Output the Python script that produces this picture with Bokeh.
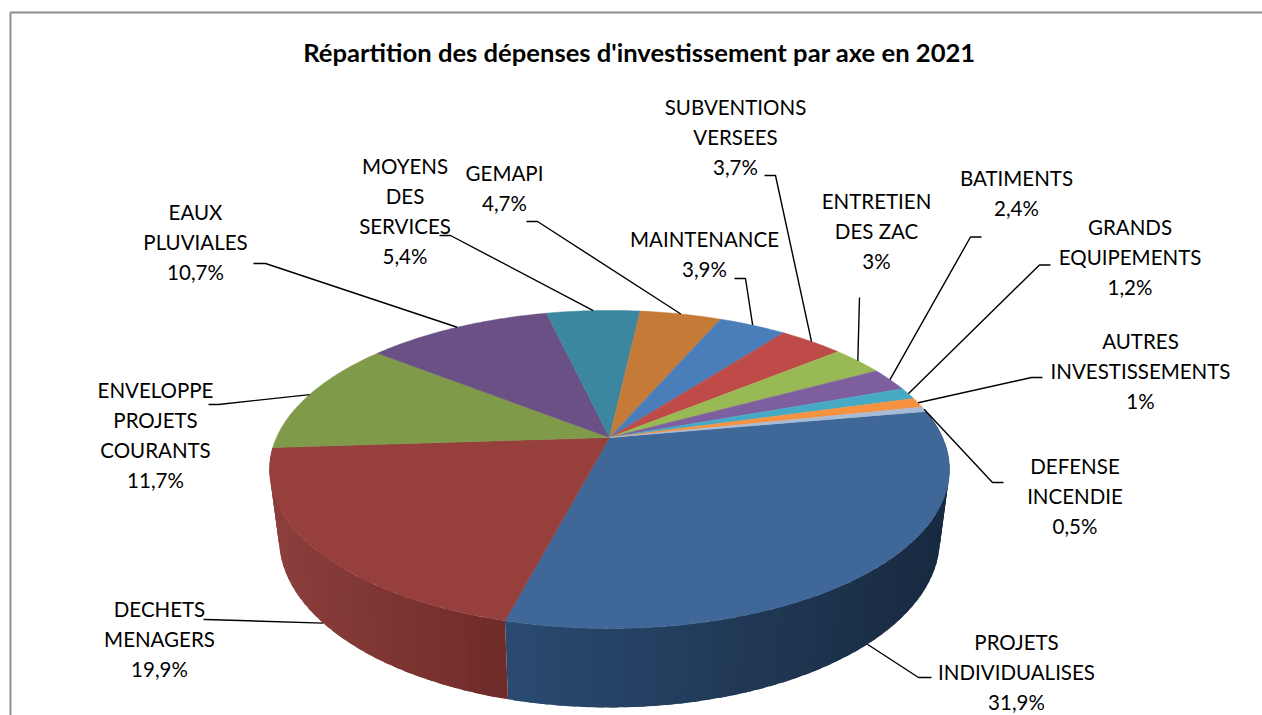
import math
from bokeh.plotting import figure
from bokeh.models import Range1d
from bokeh.core.properties import value
from bokeh.embed import file_html
from bokeh.resources import INLINE

# --- data -------------------------------------------------------------
title_text = "Répartition des dépenses d'investissement par axe en 2021"
categories = ["PROJETS\nINDIVIDUALISES", "DECHETS\nMENAGERS", "ENVELOPPE\nPROJETS\nCOURANTS",
              "EAUX\nPLUVIALES", "MOYENS\nDES\nSERVICES", "GEMAPI", "MAINTENANCE",
              "SUBVENTIONS\nVERSEES", "ENTRETIEN\nDES ZAC", "BATIMENTS", "GRANDS\nEQUIPEMENTS",
              "AUTRES\nINVESTISSEMENTS", "DEFENSE\nINCENDIE"]
shares = [31.9, 19.9, 11.7, 10.7, 5.4, 4.7, 3.9, 3.7, 3.0, 2.4, 1.2, 1.0, 0.5]
share_labels = ["31,9%", "19,9%", "11,7%", "10,7%", "5,4%", "4,7%", "3,9%", "3,7%", "3%", "2,4%", "1,2%", "1%", "0,5%"]

# --- styles / layout ---------------------------------------------------
top_colors = ["#3f6797", "#963f3c", "#7f9a48", "#6a5084", "#3b87a0", "#c57a38", "#4a7ebb",
              "#be4b48", "#98b954", "#7d5fa0", "#46aac4", "#f69240", "#a9bad5"]
side_stops = {0: ((510, (0x2a, 0x4a, 0x70)), (945, (0x18, 0x2a, 0x40))),
              1: ((280, (0x8b, 0x3e, 0x3b)), (510, (0x6e, 0x2b, 0x28)))}
label_x = [1016, 159, 155, 195, 404.5, 504, 704, 735, 876, 1016, 1129.5, 1140, 1074.5]
label_y = [641, 608, 389, 211, 165, 172, 238, 106, 200, 177, 226, 340, 465]
elbow_pts = [[(931, 677), (918, 677)], [(203, 619), (205, 619)], [(208, 404), (218, 404)],
             [(253, 263), (265, 263)], [(439, 235), (450, 235)], [(526, 221), (537, 221)],
             [(734, 278), (745, 278)], [(764, 175), (775, 175)], [(859, 297)],
             [(981, 236.5), (970, 236.5)], [(1050, 264.5), (1039, 264.5)],
             [(1042, 377), (1031, 377)], [(1003, 482), (992, 482)]]
START = 79.8
CX, K, A, B = 609.0, 0.201, 333.0, 152.6
TOP = (437.0, 1.0, 1.0)
BOT = (504.5, 0.972, 1.06)
LINE_H = 30


def rim(theta, plane):
    cy, sx, sy = plane
    t = math.radians(theta)
    w = 1 + K * math.cos(t)
    return CX + sx * A * math.sin(t) / w, cy - sy * B * math.cos(t) / w


W, H = 1262, 715
p = figure(width=W, height=H, output_backend="svg", toolbar_location=None,
           x_range=Range1d(0, W), y_range=Range1d(H, 0),
           min_border=0, outline_line_color=None, border_fill_color="white",
           background_fill_color="white")
p.axis.visible = False
p.grid.visible = False

# chart frame
p.line([10, 10, 1262], [715, 12, 12], line_color="#8e8e8e", line_width=2)

# slice boundaries from the values
total = sum(shares)
edges = [START]
for s in shares:
    edges.append(edges[-1] + s / total * 360)

# side wall, as narrow strips that each run under the next one
sx, sy, sc = [], [], []
for i, stops in side_stops.items():
    a0, a1 = edges[i], edges[i + 1]
    n = int((a1 - a0) / 2.0) + 1
    (x0, c0), (x1, c1) = stops
    for j in range(n):
        u0 = a0 + (a1 - a0) * j / n
        u1 = a0 + (a1 - a0) * (j + 1) / n
        um = u1 + (a1 - a0) / n * (0.6 if j < n - 1 else 0)
        tx0, ty0 = rim(u0, TOP); tx1, ty1 = rim(um, TOP); tm, tn = rim((u0 + um) / 2, TOP)
        bx0, by0 = rim(u0, BOT); bx1, by1 = rim(um, BOT); bm, bn = rim((u0 + um) / 2, BOT)
        cx_mid = rim((u0 + u1) / 2, TOP)[0]
        f = min(1, max(0, (cx_mid - x0) / (x1 - x0)))
        col = "#%02x%02x%02x" % tuple(int(round(c0[k] + (c1[k] - c0[k]) * f)) for k in range(3))
        sx.append([tx0, tm, tx1, bx1, bm, bx0])
        sy.append([ty0, tn, ty1, by1, bn, by0])
        sc.append(col)
p.patches(sx, sy, fill_color=sc, line_color=None)

# top faces
xs, ys = [], []
for i in range(len(shares)):
    a0, a1 = edges[i], edges[i + 1]
    n = max(2, int((a1 - a0) / 1.0))
    pts = [rim(a0 + (a1 - a0) * j / n, TOP) for j in range(n + 1)]
    xs.append([CX] + [q[0] for q in pts])
    ys.append([TOP[0]] + [q[1] for q in pts])
p.patches(xs, ys, fill_color=top_colors, line_color=top_colors, line_width=0.5)

# leader lines: elbow -> rim at the middle of each slice
for i, pts in enumerate(elbow_pts):
    mid = (edges[i] + edges[i + 1]) / 2
    end = rim(mid, BOT if i < 2 else TOP)
    p.line([q[0] for q in pts] + [end[0]], [q[1] for q in pts] + [end[1]],
           line_color="black", line_width=1.4)

# labels
tx, ty, tt = [], [], []
for i, name in enumerate(categories):
    lines = name.split("\n") + [share_labels[i]]
    for j, ln in enumerate(lines):
        tx.append(label_x[i]); ty.append(label_y[i] + j * LINE_H); tt.append(ln)
p.text(tx, ty, text=tt, text_font=value("Lato"), text_font_size="20.5px", text_color="#000000",
       text_align="center", text_baseline="middle")
p.text([639], [51.5], text=[title_text], text_font=value("Lato"), text_font_size="25.6px",
       text_font_style="bold", text_color="#000000", text_align="center", text_baseline="middle")

open("out.html", "w").write(file_html(p, INLINE))
